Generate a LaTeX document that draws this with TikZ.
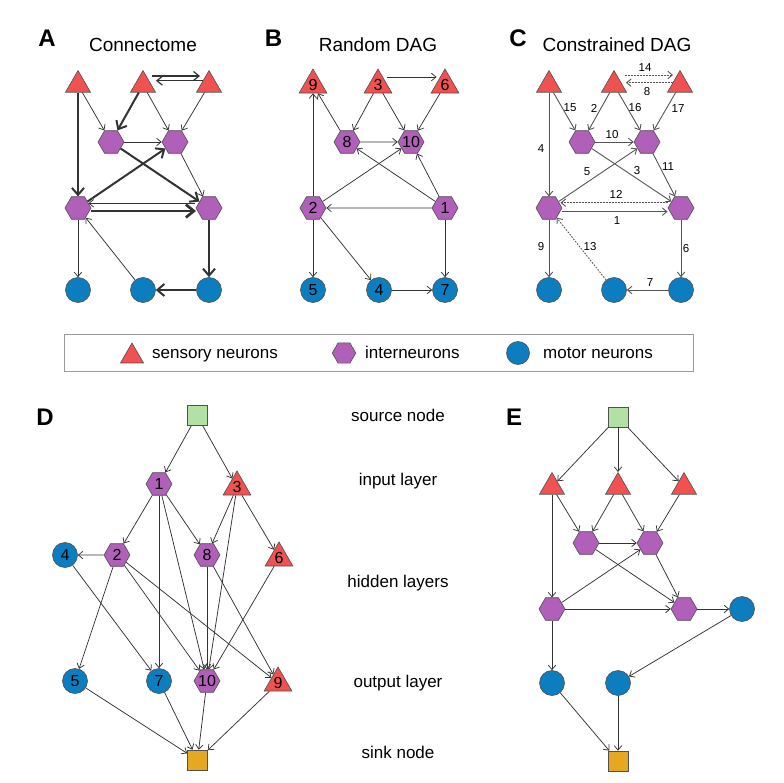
\documentclass[tikz,border=0pt]{standalone}
\usepackage{fontspec}
\setmainfont{Liberation Sans}
\usetikzlibrary{shapes.geometric,arrows.meta}
\definecolor{tred}{HTML}{F05252}
\definecolor{hpurple}{HTML}{B060B8}
\definecolor{cblue}{HTML}{0C7DBE}
\definecolor{sgreen}{HTML}{B3E0A5}
\definecolor{korange}{HTML}{E6A820}
\definecolor{nline}{HTML}{505050}
\definecolor{ecol}{HTML}{333333}
\definecolor{ccol}{HTML}{555555}
\definecolor{boxcol}{HTML}{9A9A9A}
\newcommand\numlbl[1]{\makebox[0pt]{#1}}
\begin{document}
\begin{tikzpicture}[x=1pt,y=-1pt,
  tri/.style={regular polygon, regular polygon sides=3, minimum size=28.9pt, inner sep=0pt, fill=tred, draw=nline, line width=0.6pt, font=\fontsize{16}{18}\selectfont},
  hex/.style={regular polygon, regular polygon sides=6, minimum size=26pt, inner sep=0pt, fill=hpurple, draw=nline, line width=0.6pt, font=\fontsize{16}{18}\selectfont},
  circ/.style={circle, minimum size=25pt, inner sep=0pt, fill=cblue, draw=nline, line width=0.6pt, font=\fontsize{16}{18}\selectfont},
  sq/.style={rectangle, minimum size=20pt, inner sep=0pt, draw=nline, line width=0.6pt},
  thn/.style={draw=ecol, line width=0.75pt, -{Straight Barb[length=4.5pt,width=7.5pt]}},
  med/.style={draw=ecol, line width=1.2pt, -{Straight Barb[length=5.5pt,width=9pt]}},
  thk/.style={draw=ecol, line width=2pt, -{Straight Barb[length=7pt,width=12pt]}},
  vthk/.style={draw=ecol, line width=2.7pt, -{Straight Barb[length=8pt,width=13pt]}},
  cln/.style={draw=ccol, line width=0.9pt, -{Straight Barb[length=4.5pt,width=7.5pt]}},
  cdot/.style={cln, dash pattern=on 1.6pt off 1.4pt},
  elbl/.style={inner sep=0pt, font=\fontsize{11.5}{13}\selectfont},
  letter/.style={inner sep=0pt, font=\fontsize{24}{28}\selectfont\bfseries},
  ttl/.style={inner sep=0pt, anchor=base, font=\fontsize{19}{22}\selectfont},
  leg/.style={inner sep=0pt, anchor=base west, font=\fontsize{17}{20}\selectfont},
  layer/.style={inner sep=0pt, anchor=base, font=\fontsize{17}{20}\selectfont}
]
\useasboundingbox (0,0) rectangle (784,783);

% ---------- Panel letters and titles ----------
\node[letter] (LA) at (47,38) {A};
\node[letter] (LB) at (273.5,38) {B};
\node[letter] (LC) at (518,38) {C};
\node[letter] (LD) at (45,417) {D};
\node[letter] (LE) at (514,417) {E};
\node[ttl] (tA) at (143,51.7) {Connectome};
\node[ttl] (tB) at (378,51.7) {Random DAG};
\node[ttl] (tC) at (617,51.7) {Constrained DAG};

% ---------- Panel A ----------
\node[tri] (aT1) at (78,85) {};
\node[tri] (aT2) at (143,85) {};
\node[tri] (aT3) at (209,85) {};
\node[hex] (aH1) at (111,142) {};
\node[hex] (aH2) at (175,142) {};
\node[hex] (aH3) at (78,208) {};
\node[hex] (aH4) at (209,208) {};
\node[circ] (aC1) at (78,290) {};
\node[circ] (aC2) at (143,290) {};
\node[circ] (aC3) at (209,290) {};
\draw[thk] (aT1) -- (aH3);
\draw[thn] (aT1) -- (aH1);
\draw[thk] (aT2) -- (aH1);
\draw[thn] (aT2) -- (aH2);
\draw[thn] (aT3) -- (aH2);
\draw[med] ([xshift=9pt,yshift=9pt]aT2.center) -- ([xshift=-9pt,yshift=9pt]aT3.center);
\draw[med] ([xshift=-6pt,yshift=4.3pt]aT3.center) -- ([xshift=13pt,yshift=4.3pt]aT2.center);
\draw[thn] (aH1) -- (aH2);
\draw[thk] (aH1) -- (aH4);
\draw[thk] (aH3) -- (aH2);
\draw[thn] (aH2) -- (aH4);
\draw[thn] ([xshift=-14pt,yshift=4.7pt]aH4.center) -- ([xshift=10.5pt,yshift=4.7pt]aH3.center);
\draw[vthk] ([xshift=13pt,yshift=-3pt]aH3.center) -- ([xshift=-13pt,yshift=-3pt]aH4.center);
\draw[thn] (aH3) -- (aC1);
\draw[thk] (aH4) -- (aC3);
\draw[thn] (aC2) -- (aH3);
\draw[thk] (aC3) -- (aC2);

% ---------- Panel B ----------
\node[tri] (b9) at (313,85) {\numlbl{9}};
\node[tri] (b3) at (378,85) {\numlbl{3}};
\node[tri] (b6) at (445,85) {\numlbl{6}};
\node[hex] (b8) at (347,142) {\numlbl{8}};
\node[hex] (b10) at (411,142) {\numlbl{10}};
\node[hex] (b2) at (313,208) {\numlbl{2}};
\node[hex] (b1) at (445,208) {\numlbl{1}};
\node[circ] (b5) at (313,290) {\numlbl{5}};
\node[circ] (b4) at (379,290) {\numlbl{4}};
\node[circ] (b7) at (445,290) {\numlbl{7}};
\draw[thn] ([xshift=8.5pt,yshift=8pt]b3.center) -- ([xshift=-8.5pt,yshift=8pt]b6.center);
\draw[thn] (b3) -- (b8);
\draw[thn] (b3) -- (b10);
\draw[thn] (b6) -- (b10);
\draw[thn] (b8) -- (b9);
\draw[thn] (b8) -- (b10);
\draw[thn] (b2) -- (b9);
\draw[thn] (b2) -- (b10);
\draw[thn] (b1) -- (b8);
\draw[thn] (b1) -- (b10);
\draw[thn] (b1) -- (b2);
\draw[thn] (b2) -- (b5);
\draw[thn] (b2) -- (b4);
\draw[thn] (b1) -- (b7);
\draw[thn] (b4) -- (b7);

% ---------- Panel C ----------
\node[tri] (cT1) at (549,85) {};
\node[tri] (cT2) at (614,85) {};
\node[tri] (cT3) at (680,85) {};
\node[hex] (cH1) at (582,142) {};
\node[hex] (cH2) at (647,142) {};
\node[hex] (cH3) at (549,208) {};
\node[hex] (cH4) at (681,208) {};
\node[circ] (cC1) at (549,290) {};
\node[circ] (cC2) at (614,290) {};
\node[circ] (cC3) at (681,290) {};
\draw[cdot] ([xshift=11pt,yshift=10pt]cT2.center) -- ([xshift=-7pt,yshift=10pt]cT3.center);
\draw[cdot] ([xshift=-7pt,yshift=2.3pt]cT3.center) -- ([xshift=12pt,yshift=2.3pt]cT2.center);
\draw[cln] (cT1) -- (cH3);
\draw[cln] (cT1) -- (cH1);
\draw[cln] (cT2) -- (cH1);
\draw[cln] (cT2) -- (cH2);
\draw[cln] (cT3) -- (cH2);
\draw[cln] (cH1) -- (cH2);
\draw[cln] (cH1) -- (cH4);
\draw[cln] (cH3) -- (cH2);
\draw[cln] (cH2) -- (cH4);
\draw[cdot] ([xshift=-13pt,yshift=5.3pt]cH4.center) -- ([xshift=11.5pt,yshift=5.3pt]cH3.center);
\draw[cln] ([xshift=13pt,yshift=-3.7pt]cH3.center) -- ([xshift=-13.5pt,yshift=-3.7pt]cH4.center);
\draw[cln] (cH3) -- (cC1);
\draw[cln] (cH4) -- (cC3);
\draw[cdot] (cC2) -- (cH3);
\draw[cln] (cC3) -- (cC2);
\node[elbl] (l14) at (645,68) {14};
\node[elbl] (l8) at (647,92) {8};
\node[elbl] (l15) at (570,108) {15};
\node[elbl] (l2) at (594,108) {2};
\node[elbl] (l16) at (635,108) {16};
\node[elbl] (l17) at (678,109) {17};
\node[elbl] (l4) at (541,149) {4};
\node[elbl] (l10) at (612,135) {10};
\node[elbl] (l5) at (587,172) {5};
\node[elbl] (l3) at (637,171) {3};
\node[elbl] (l11) at (668,167) {11};
\node[elbl] (l12) at (616,194) {12};
\node[elbl] (l1) at (617,221) {1};
\node[elbl] (l9) at (541,247) {9};
\node[elbl] (l13) at (590,247) {13};
\node[elbl] (l6) at (686,249) {6};
\node[elbl] (l7) at (650,283) {7};

% ---------- Legend ----------
\node[draw=boxcol, line width=1pt, minimum width=629pt, minimum height=36pt, inner sep=0pt] (legbox) at (378.5,353) {};
\node[tri, minimum size=26.6pt] (legT) at (132,356.3) {};
\node[leg] (legTt) at (152,358.5) {sensory neurons};
\node[hex, minimum size=23.5pt] (legH) at (344,353) {};
\node[leg] (legHt) at (365,358.5) {interneurons};
\node[circ, minimum size=23pt] (legC) at (518,353) {};
\node[leg] (legCt) at (543,358.5) {motor neurons};

% ---------- Panel D ----------
\node[sq, fill=sgreen] (dsrc) at (197,415.5) {};
\node[hex] (d1) at (159,484) {\numlbl{1}};
\node[tri] (d3) at (237,487) {\numlbl{3}};
\node[circ] (d4) at (65,555) {\numlbl{4}};
\node[hex] (d2) at (117,555) {\numlbl{2}};
\node[hex] (d8) at (207,555) {\numlbl{8}};
\node[tri] (d6) at (279,558) {\numlbl{6}};
\node[circ] (d5) at (75,681) {\numlbl{5}};
\node[circ] (d7) at (159,681) {\numlbl{7}};
\node[hex] (d10) at (207,681) {\numlbl{10}};
\node[tri] (d9) at (278,683) {\numlbl{9}};
\node[sq, fill=korange] (dsnk) at (197.5,760) {};
\draw[thn] (dsrc) -- (d1);
\draw[thn] (dsrc) -- (d3);
\draw[thn] (d1) -- (d2);
\draw[thn] (d1) -- (d7);
\draw[thn] (d1) -- (d10);
\draw[thn] (d1) -- (d8);
\draw[thn] (d3) -- (d8);
\draw[thn] (d3) -- (d10);
\draw[thn] (d3) -- (d6);
\draw[thn] (d2) -- (d4);
\draw[thn] (d2) -- (d5);
\draw[thn] (d2) -- (d10);
\draw[thn] (d2) -- (d9);
\draw[thn] (d4) -- (d7);
\draw[thn] (d8) -- (d10);
\draw[thn] (d8) -- (d9);
\draw[thn] (d6) -- (d10);
\draw[thn] (d5) -- (dsnk);
\draw[thn] (d7) -- (dsnk);
\draw[thn] (d10) -- (dsnk);
\draw[thn] (d9) -- (dsnk);
\node[layer] (ls) at (398,421.7) {source node};
\node[layer] (li) at (398,485) {input layer};
\node[layer] (lh) at (398,587.5) {hidden layers};
\node[layer] (lo) at (398,687.3) {output layer};
\node[layer] (lk) at (398,758) {sink node};

% ---------- Panel E ----------
\node[sq, fill=sgreen] (esrc) at (618,417) {};
\node[tri] (eT1) at (552,487) {};
\node[tri] (eT2) at (618,487) {};
\node[tri] (eT3) at (684,487) {};
\node[hex] (eH1) at (586,543) {};
\node[hex] (eH2) at (650,543) {};
\node[hex] (eH3) at (552,609) {};
\node[hex] (eH4) at (684,609) {};
\node[circ] (eC4) at (742,609) {};
\node[circ] (eC1) at (552,683) {};
\node[circ] (eC2) at (618,683) {};
\node[sq, fill=korange] (esnk) at (618,761) {};
\draw[thn] (esrc) -- (eT1);
\draw[thn] (esrc) -- (eT2);
\draw[thn] (esrc) -- (eT3);
\draw[thn] (eT1) -- (eH3);
\draw[thn] (eT1) -- (eH1);
\draw[thn] (eT2) -- (eH1);
\draw[thn] (eT2) -- (eH2);
\draw[thn] (eT3) -- (eH2);
\draw[thn] (eH1) -- (eH2);
\draw[thn] (eH1) -- (eH4);
\draw[thn] (eH3) -- (eH2);
\draw[thn] (eH2) -- (eH4);
\draw[thn] (eH3) -- (eH4);
\draw[thn] (eH4) -- (eC4);
\draw[thn] (eH3) -- (eC1);
\draw[thn] (eC4) -- (eC2);
\draw[thn] (eC1) -- (esnk);
\draw[thn] (eC2) -- (esnk);
\end{tikzpicture}
\end{document}
